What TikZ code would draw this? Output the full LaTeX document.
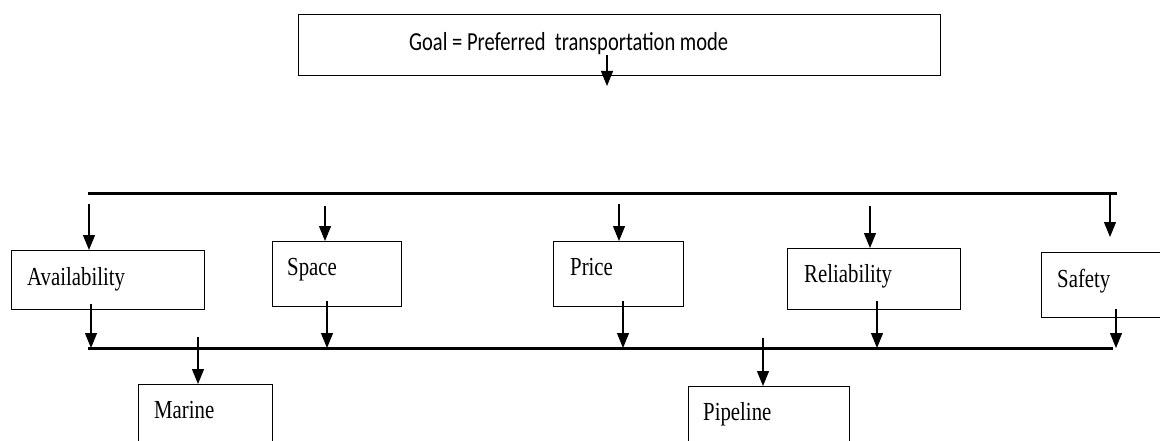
\documentclass[tikz,border=0pt]{standalone}
\usepackage{fontspec}
\setmainfont{Liberation Serif}[FakeStretch=0.8]
\newfontfamily\goalfont{Carlito}[FakeStretch=0.79]
\usetikzlibrary{arrows.meta}

\begin{document}
\begin{tikzpicture}[x=1pt,y=-1pt,
  box/.style={draw, line width=1.3pt, inner sep=0pt, anchor=north west},
  lbl/.style={anchor=base west, inner sep=0pt, font=\fontsize{26}{30}\selectfont},
  arr/.style={line width=1.2pt, -{Triangle[width=12pt,length=15pt]}},
  bus/.style={line width=3pt}]
\clip (0,0) rectangle (1160,441);

% goal
\node[box, minimum width=642pt, minimum height=61pt] (goal) at (298,14) {};
\node[anchor=base west, inner sep=0pt, font=\goalfont\fontsize{26}{30}\selectfont] (goaltxt) at (409,51) {Goal = Preferred\ \ transportation mode};
\coordinate (g0) at (607,55);
\coordinate (g1) at (607,86);
\draw[arr] (g0) -- (g1);

% buses
\coordinate (t1) at (88,194);
\coordinate (t2) at (1117,194);
\coordinate (b1) at (88,348);
\coordinate (b2) at (1113,348);
\draw[bus] (t1) -- (t2);
\draw[bus] (b1) -- (b2);

% criteria
\node[box, minimum width=193pt, minimum height=59pt] (avail) at (11,250) {};
\node[lbl] at (27,285) {Availability};
\node[box, minimum width=129pt, minimum height=65pt] (space) at (272,241) {};
\node[lbl] at (287,275) {Space};
\node[box, minimum width=130pt, minimum height=65pt] (price) at (553,241) {};
\node[lbl] at (570,275) {Price};
\node[box, minimum width=173pt, minimum height=61pt] (rel) at (787,248) {};
\node[lbl] at (804,282) {Reliability};
\node[box, minimum width=140pt, minimum height=65pt] (safety) at (1041,252) {};
\node[lbl] at (1057,287) {Safety};

% alternatives
\node[box, minimum width=134pt, minimum height=80pt] (marine) at (138,384) {};
\node[lbl] at (154,418) {Marine};
\node[box, minimum width=161pt, minimum height=80pt] (pipe) at (688,386) {};
\node[lbl] at (703,420) {Pipeline};

% arrows from the top bus to the criteria
\draw[arr] (89,204) -- (89,204 |- avail.north);
\draw[arr] (325,206) -- (325,206 |- space.north);
\draw[arr] (619,204) -- (619,204 |- price.north);
\draw[arr] (870,206) -- (870,206 |- rel.north);
\coordinate (s0) at (1110,194);
\coordinate (s1) at (1110,237);
\draw[arr] (s0) -- (s1);

% arrows from the criteria to the bottom bus
\draw[arr] (91,304) -- (91,304 |- b1);
\draw[arr] (327,301) -- (327,301 |- b1);
\draw[arr] (623,301) -- (623,301 |- b1);
\draw[arr] (877,301) -- (877,301 |- b1);
\draw[arr] (1116,309) -- (1116,309 |- b1);

% arrows to the alternatives
\draw[arr] (198,337) -- (198,337 |- marine.north);
\draw[arr] (763,338) -- (763,338 |- pipe.north);
\end{tikzpicture}
\end{document}
